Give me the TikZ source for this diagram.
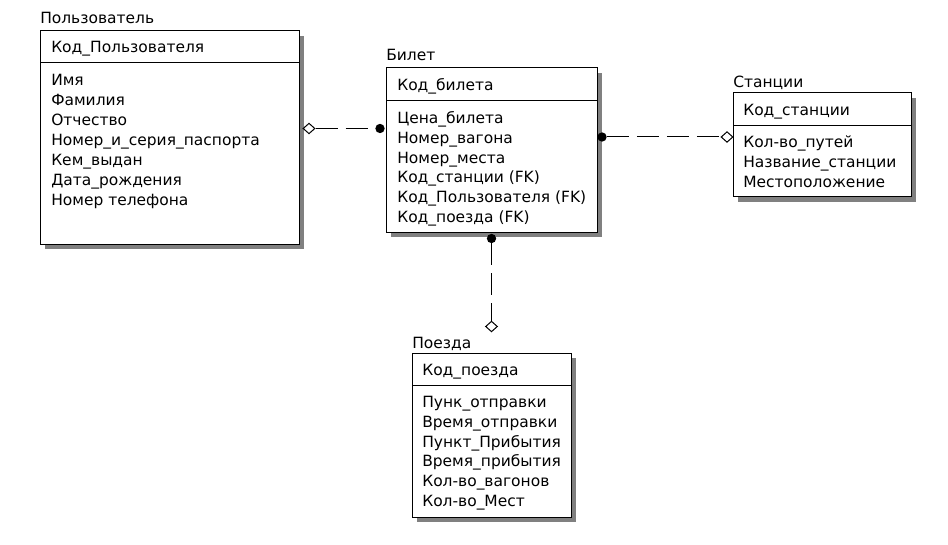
\documentclass[tikz,border=0pt]{standalone}
\usepackage{fontspec}
\setmainfont{DejaVu Sans}
\usetikzlibrary{shapes.geometric}
\begin{document}
\begin{tikzpicture}[x=0.75pt,y=-0.75pt,
  ent/.style={draw=black,line width=0.75pt,fill=white},
  shd/.style={fill=black!50,draw=none},
  txt/.style={anchor=base west,inner sep=0pt,font=\fontsize{11.6}{13}\selectfont},
  rel/.style={line width=0.75pt,dash pattern=on 16.5pt off 6pt},
  fk/.style={circle,fill=black,inner sep=0pt,minimum size=7pt},
  pk/.style={diamond,draw=black,fill=white,line width=0.75pt,inner sep=0pt,minimum width=9pt,minimum height=8pt}]
\useasboundingbox (0,0) rectangle (948,545);
\fill[white] (0,0) rectangle (948,545);

% ---- Пользователь
\fill[shd] (45,36) rectangle (304,249);
\draw[ent] (40,31) rectangle (299,244);
\draw[line width=0.75pt] (40,63) -- (299,63);
\node[txt] (uT) at (40,23.5) {Пользователь};
\node[txt] (uK) at (51,52.5) {Код\_Пользователя};
\node[txt] (u1) at (51,85.5) {Имя};
\node[txt] (u2) at (51,105.5) {Фамилия};
\node[txt] (u3) at (51,125.5) {Отчество};
\node[txt] (u4) at (51,145.5) {Номер\_и\_серия\_паспорта};
\node[txt] (u5) at (51,165.5) {Кем\_выдан};
\node[txt] (u6) at (51,185.5) {Дата\_рождения};
\node[txt] (u7) at (51,205.5) {Номер телефона};

% ---- Билет
\fill[shd] (391,73) rectangle (602,237);
\draw[ent] (386,68) rectangle (597,232);
\draw[line width=0.75pt] (386,101) -- (597,101);
\node[txt] (bT) at (386,60.5) {Билет};
\node[txt] (bK) at (397,90.5) {Код\_билета};
\node[txt] (b1) at (397,123.5) {Цена\_билета};
\node[txt] (b2) at (397,143.3) {Номер\_вагона};
\node[txt] (b3) at (397,163.1) {Номер\_места};
\node[txt] (b4) at (397,182.9) {Код\_станции (FK)};
\node[txt] (b5) at (397,202.7) {Код\_Пользователя (FK)};
\node[txt] (b6) at (397,222.5) {Код\_поезда (FK)};

% ---- Станции
\fill[shd] (738,98) rectangle (916,202);
\draw[ent] (733,93) rectangle (911,197);
\draw[line width=0.75pt] (733,126) -- (911,126);
\node[txt] (sT) at (733,87.5) {Станции};
\node[txt] (sK) at (743,116) {Код\_станции};
\node[txt] (s1) at (743,147.5) {Кол-во\_путей};
\node[txt] (s2) at (743,167.5) {Название\_станции};
\node[txt] (s3) at (743,187.5) {Местоположение};

% ---- Поезда
\fill[shd] (417,358) rectangle (576,522);
\draw[ent] (412,353) rectangle (571,517);
\draw[line width=0.75pt] (412,385) -- (571,385);
\node[txt] (pT) at (412,348.5) {Поезда};
\node[txt] (pK) at (422,375.5) {Код\_поезда};
\node[txt] (p1) at (422,407.5) {Пунк\_отправки};
\node[txt] (p2) at (422,427.3) {Время\_отправки};
\node[txt] (p3) at (422,447.1) {Пункт\_Прибытия};
\node[txt] (p4) at (422,466.9) {Время\_прибытия};
\node[txt] (p5) at (422,486.7) {Кол-во\_вагонов};
\node[txt] (p6) at (422,506.5) {Кол-во\_Мест};

% ---- connectors
\node[pk] (d1) at (309,128.5) {};
\node[fk] (f1) at (380,128.5) {};
\draw[rel] (d1.east) -- (f1.west);

\node[fk] (f2) at (602,137) {};
\node[pk] (d2) at (727,137) {};
\draw[rel] (f2.east) -- (d2.west);

\node[fk] (f3) at (491.5,238.5) {};
\node[pk] (d3) at (491.5,326.5) {};
\draw[rel] (f3.south) -- (d3.north);
\end{tikzpicture}
\end{document}
